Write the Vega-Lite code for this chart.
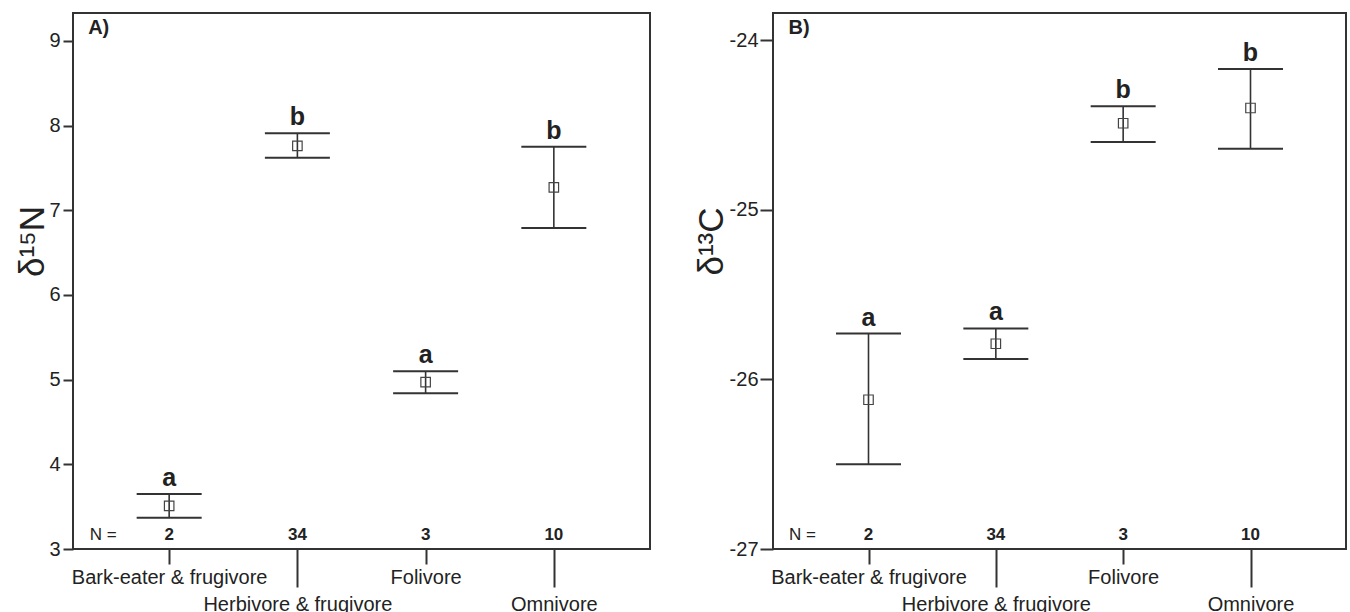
{
  "$schema": "https://vega.github.io/schema/vega-lite/v6.json",
  "padding": {"left": 14, "top": 12, "right": 5, "bottom": 5},
  "background": "white",
  "config": {
    "font": "Liberation Sans",
    "view": {"stroke": "#333333", "strokeWidth": 2},
    "axis": {"labelColor": "#222222", "tickColor": "#333333", "titleColor": "#222222", "labelFont": "Liberation Sans", "titleFont": "Liberation Sans", "labelLimit": 400}
  },
  "datasets": {
    "stats": [
      {"panel": "A", "group": "Bark-eater & frugivore", "mean": 3.51, "lower": 3.37, "upper": 3.65, "letter": "a", "n": "2"},
      {"panel": "A", "group": "Herbivore & frugivore", "mean": 7.76, "lower": 7.62, "upper": 7.91, "letter": "b", "n": "34"},
      {"panel": "A", "group": "Folivore", "mean": 4.97, "lower": 4.84, "upper": 5.10, "letter": "a", "n": "3"},
      {"panel": "A", "group": "Omnivore", "mean": 7.27, "lower": 6.79, "upper": 7.75, "letter": "b", "n": "10"},
      {"panel": "B", "group": "Bark-eater & frugivore", "mean": -26.12, "lower": -26.50, "upper": -25.73, "letter": "a", "n": "2"},
      {"panel": "B", "group": "Herbivore & frugivore", "mean": -25.79, "lower": -25.88, "upper": -25.70, "letter": "a", "n": "34"},
      {"panel": "B", "group": "Folivore", "mean": -24.49, "lower": -24.60, "upper": -24.39, "letter": "b", "n": "3"},
      {"panel": "B", "group": "Omnivore", "mean": -24.40, "lower": -24.64, "upper": -24.17, "letter": "b", "n": "10"}
    ]
  },
  "data": {"name": "stats"},
  "spacing": 42,
  "hconcat": [
    {
      "width": 577,
      "height": 536,
      "transform": [{"filter": "datum.panel == 'A'"}],
      "encoding": {
        "x": {
          "field": "group", "type": "nominal",
          "sort": ["Bark-eater & frugivore", "Herbivore & frugivore", "Folivore", "Omnivore"],
          "scale": {"type": "point", "padding": 0.75},
          "axis": {
            "title": null, "labelAngle": 0, "labelFontSize": 20, "labelLimit": 400, "labelOverlap": false, "labelBound": false, "labelFlush": false, "domain": false,
            "tickWidth": 2,
            "tickSize": {"condition": {"test": "indexof(['Herbivore & frugivore','Omnivore'], datum.value) >= 0", "value": 38}, "value": 15},
            "labelPadding": {"condition": {"test": "indexof(['Herbivore & frugivore','Omnivore'], datum.value) >= 0", "value": 7}, "value": 3}
          }
        }
      },
      "layer": [
        {
          "mark": {"type": "rule", "color": "#333333", "strokeWidth": 1.6},
          "encoding": {
            "y": {"field": "lower", "type": "quantitative",
              "scale": {"domain": [3, 9.33], "nice": false, "zero": false},
              "axis": {"values": [3, 4, 5, 6, 7, 8, 9], "labelExpr": "'' + datum.value", "tickSize": 10, "tickWidth": 2, "labelPadding": 3, "labelFontSize": 20, "domain": false, "grid": false,
                "title": "δ¹⁵N", "titleFontSize": 35, "titleFontWeight": "normal", "titleX": -30, "titleY": 228, "titleBaseline": "alphabetic", "titleAngle": 270}},
            "y2": {"field": "upper"}
          }
        },
        {
          "mark": {"type": "tick", "color": "#333333", "size": 65, "thickness": 2, "orient": "horizontal", "opacity": 1},
          "encoding": {"y": {"field": "upper", "type": "quantitative"}}
        },
        {
          "mark": {"type": "tick", "color": "#333333", "size": 65, "thickness": 2, "orient": "horizontal", "opacity": 1},
          "encoding": {"y": {"field": "lower", "type": "quantitative"}}
        },
        {
          "mark": {"type": "point", "shape": "square", "filled": false, "size": 90, "color": "#444444", "strokeWidth": 1.2, "opacity": 1},
          "encoding": {"y": {"field": "mean", "type": "quantitative"}}
        },
        {
          "mark": {"type": "text", "fontSize": 25, "fontWeight": "bold", "dy": -8, "baseline": "alphabetic", "color": "#222222"},
          "encoding": {"y": {"field": "upper", "type": "quantitative"}, "text": {"field": "letter"}}
        },
        {
          "mark": {"type": "text", "fontSize": 17, "fontWeight": "bold", "baseline": "bottom", "dy": -5, "color": "#222222"},
          "encoding": {"y": {"datum": 3}, "text": {"field": "n"}}
        },
        {
          "transform": [{"filter": "datum.group == 'Bark-eater & frugivore'"}],
          "mark": {"type": "text", "fontSize": 17, "align": "center", "baseline": "bottom", "dy": -5, "dx": -66, "color": "#222222"},
          "encoding": {"y": {"datum": 3}, "text": {"value": "N ="}}
        },
        {
          "transform": [{"filter": "datum.group == 'Bark-eater & frugivore'"}],
          "mark": {"type": "text", "fontSize": 20, "fontWeight": "bold", "align": "left", "baseline": "top", "dy": 5, "dx": -81, "color": "#222222"},
          "encoding": {"y": {"datum": 9.33}, "text": {"value": "A)"}}
        }
      ]
    },
    {
      "width": 573,
      "height": 536,
      "transform": [{"filter": "datum.panel == 'B'"}],
      "encoding": {
        "x": {
          "field": "group", "type": "nominal",
          "sort": ["Bark-eater & frugivore", "Herbivore & frugivore", "Folivore", "Omnivore"],
          "scale": {"type": "point", "padding": 0.75},
          "axis": {
            "title": null, "labelAngle": 0, "labelFontSize": 20, "labelLimit": 400, "labelOverlap": false, "labelBound": false, "labelFlush": false, "domain": false,
            "tickWidth": 2,
            "tickSize": {"condition": {"test": "indexof(['Herbivore & frugivore','Omnivore'], datum.value) >= 0", "value": 38}, "value": 15},
            "labelPadding": {"condition": {"test": "indexof(['Herbivore & frugivore','Omnivore'], datum.value) >= 0", "value": 7}, "value": 3}
          }
        }
      },
      "layer": [
        {
          "mark": {"type": "rule", "color": "#333333", "strokeWidth": 1.6},
          "encoding": {
            "y": {"field": "lower", "type": "quantitative",
              "scale": {"domain": [-27, -23.84], "nice": false, "zero": false},
              "axis": {"values": [-27, -26, -25, -24], "labelExpr": "'' + datum.value", "tickSize": 13, "tickWidth": 2, "labelPadding": 2, "labelFontSize": 20, "domain": false, "grid": false,
                "title": "δ¹³C", "titleFontSize": 35, "titleFontWeight": "normal", "titleX": -51, "titleY": 228, "titleBaseline": "alphabetic", "titleAngle": 270}},
            "y2": {"field": "upper"}
          }
        },
        {
          "mark": {"type": "tick", "color": "#333333", "size": 65, "thickness": 2, "orient": "horizontal", "opacity": 1},
          "encoding": {"y": {"field": "upper", "type": "quantitative"}}
        },
        {
          "mark": {"type": "tick", "color": "#333333", "size": 65, "thickness": 2, "orient": "horizontal", "opacity": 1},
          "encoding": {"y": {"field": "lower", "type": "quantitative"}}
        },
        {
          "mark": {"type": "point", "shape": "square", "filled": false, "size": 90, "color": "#444444", "strokeWidth": 1.2, "opacity": 1},
          "encoding": {"y": {"field": "mean", "type": "quantitative"}}
        },
        {
          "mark": {"type": "text", "fontSize": 25, "fontWeight": "bold", "dy": -8, "baseline": "alphabetic", "color": "#222222"},
          "encoding": {"y": {"field": "upper", "type": "quantitative"}, "text": {"field": "letter"}}
        },
        {
          "mark": {"type": "text", "fontSize": 17, "fontWeight": "bold", "baseline": "bottom", "dy": -5, "color": "#222222"},
          "encoding": {"y": {"datum": -27}, "text": {"field": "n"}}
        },
        {
          "transform": [{"filter": "datum.group == 'Bark-eater & frugivore'"}],
          "mark": {"type": "text", "fontSize": 17, "align": "center", "baseline": "bottom", "dy": -5, "dx": -66, "color": "#222222"},
          "encoding": {"y": {"datum": -27}, "text": {"value": "N ="}}
        },
        {
          "transform": [{"filter": "datum.group == 'Bark-eater & frugivore'"}],
          "mark": {"type": "text", "fontSize": 20, "fontWeight": "bold", "align": "left", "baseline": "top", "dy": 5, "dx": -80, "color": "#222222"},
          "encoding": {"y": {"datum": -23.84}, "text": {"value": "B)"}}
        }
      ]
    }
  ]
}
